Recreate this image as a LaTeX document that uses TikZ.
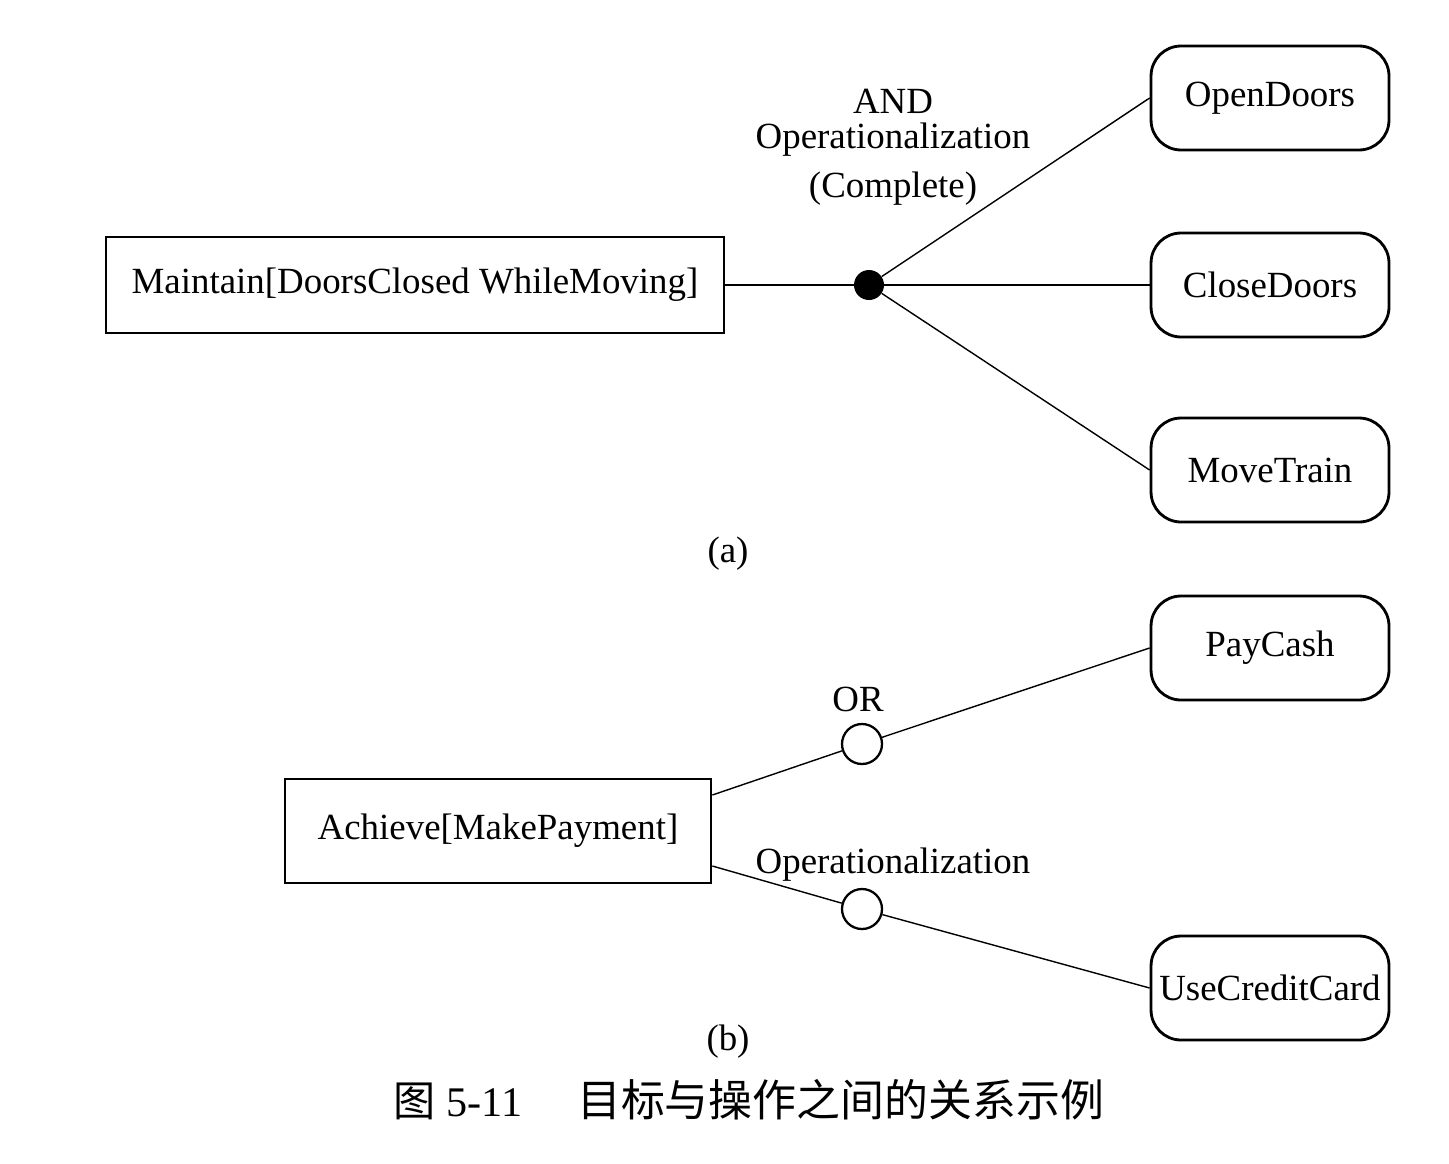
\documentclass[tikz,border=0pt]{standalone}
\usepackage{fontspec}
\setmainfont{Liberation Serif}
\newfontfamily\cjk{Noto Sans CJK SC}
\usetikzlibrary{positioning}

\tikzset{
	goal/.style={draw, line width=1.6pt, minimum height=1.92cm, inner sep=0pt},
	oper/.style={draw, line width=1.6pt, rounded corners=0.6cm, minimum width=4.76cm, minimum height=2.08cm, inner sep=0pt},
	andpt/.style={circle, fill=black, minimum size=0.6cm, inner sep=0pt},
	orpt/.style={circle, draw, line width=1.3pt, minimum size=0.8cm, inner sep=0pt},
	link/.style={line width=0.8pt}
}

\begin{document}
\begin{tikzpicture}[x=0.02cm, y=-0.02cm, font=\fontsize{21}{20}\selectfont]

	\useasboundingbox (0, 0) rectangle (1449, 1163);

	% (a) AND operationalization
	\node[goal, minimum width=12.36cm] (maintain) at (415, 285) {Maintain[DoorsClosed WhileMoving]};
	\node[andpt] (andnode) at (869, 285) {};
	\node[align=center] (andlabel) at (893, 147) {AND\\Operationalization\\[8pt](Complete)};

	\node[oper] (open) at (1270, 98) {OpenDoors};
	\node[oper] (close) at (1270, 285) {CloseDoors};
	\node[oper] (move) at (1270, 470) {MoveTrain};

	\draw[link] (maintain) -- (andnode);
	\draw[link] (andnode) -- (open.west);
	\draw[link] (andnode) -- (close.west);
	\draw[link] (andnode) -- (move.west);

	\node (capa) at (728, 554) {(a)};

	% (b) OR operationalization
	\node[goal, minimum width=8.52cm, minimum height=2.08cm] (achieve) at (498, 831) {Achieve[MakePayment]};
	\node[orpt] (or1) at (862, 744) {};
	\node[orpt] (or2) at (862, 909) {};
	\node (orlabel) at (858, 699) {OR};
	\node (oplabel) at (893, 865) {Operationalization};

	\node[oper] (cash) at (1270, 648) {PayCash};
	\node[oper] (card) at (1270, 988) {UseCreditCard};

	\draw[link] ([yshift=0.72cm]achieve.east) -- (or1);
	\draw[link] (or1) -- (cash.west);
	\draw[link] ([yshift=-0.7cm]achieve.east) -- (or2);
	\draw[link] (or2) -- (card.west);

	\node (capb) at (728, 1042) {(b)};

	\node (caption) at (749, 1100) {\fontsize{24}{28}\selectfont{\cjk 图}~5-11\hspace{1.3em}{\cjk\fontsize{25}{28}\selectfont 目标与操作之间的关系示例}};

\end{tikzpicture}
\end{document}
